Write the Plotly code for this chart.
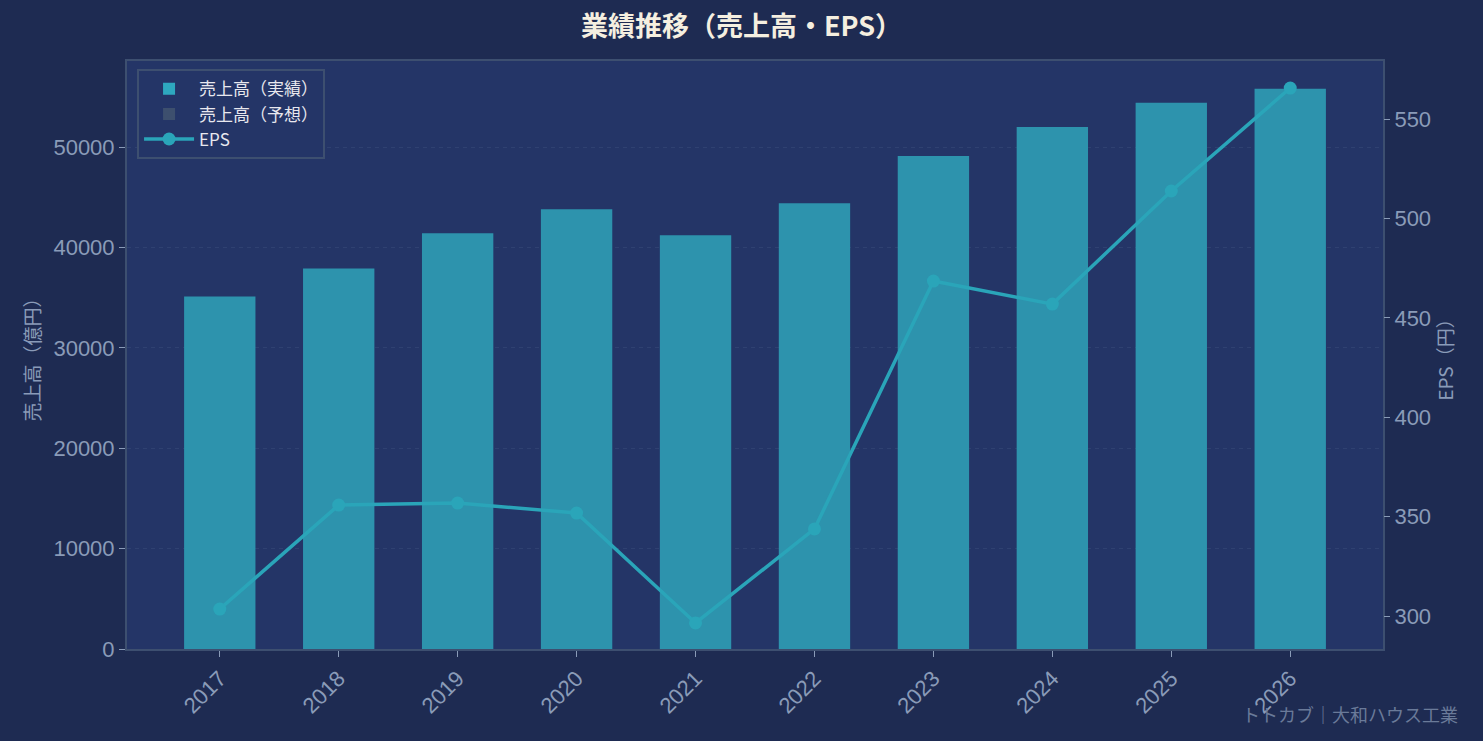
import plotly.graph_objects as go

years = ['2017', '2018', '2019', '2020', '2021', '2022', '2023', '2024', '2025', '2026']
sales = [35100, 37900, 41400, 43800, 41200, 44400, 49100, 52000, 54400, 55800]  # 億円
eps = [303.5, 355.8, 356.8, 351.8, 296.5, 343.8, 468.5, 456.9, 513.8, 565.6]  # 円

BG = '#1e2b52'
PLOT_BG = '#243567'
FRAME = '#3d4f70'
TICK = '#8a9bb8'
JP = 'Noto Sans CJK JP'
NUM = 'Liberation Sans, Noto Sans CJK JP'

fig = go.Figure()

# bars (actual) - legend handled by dummy trace below
fig.add_trace(go.Bar(
    x=years, y=sales, width=0.6,
    marker=dict(color='#2d93ad', line=dict(width=0)),
    showlegend=False, name='売上高（実績）'
))
# legend entries
fig.add_trace(go.Bar(
    x=[None], y=[None], name='売上高（実績）',
    marker=dict(color='#2ea8bf', line=dict(width=0))
))
fig.add_trace(go.Bar(
    x=[None], y=[None], name='売上高（予想）',
    marker=dict(color='#3d4f6e', line=dict(width=0))
))

fig.add_trace(go.Scatter(
    x=years, y=eps, yaxis='y2', mode='lines+markers', name='EPS',
    line=dict(color='#2aa5b9', width=3.5),
    marker=dict(color='#2aa5b9', size=13)
))

fig.update_layout(
    width=1483, height=741,
    paper_bgcolor=BG, plot_bgcolor=PLOT_BG,
    font=dict(family=JP, color=TICK),
    margin=dict(l=127, r=100, t=61, b=92),
    barmode='overlay',
    title=dict(text='<b>業績推移（売上高・EPS）</b>', x=0.5, xanchor='center',
               y=1 - 27 / 741, yanchor='middle',
               font=dict(size=27, color='#f5efe0', family=JP)),
    xaxis=dict(range=[-0.78, 9.78], tickangle=-45, tickfont=dict(size=22, color=TICK, family=NUM),
               showgrid=False, ticks='outside', tickcolor=TICK, ticklen=6,
               showline=True, linecolor=FRAME, linewidth=2, mirror=True, zeroline=False),
    yaxis=dict(range=[0, 58566], tickvals=[0, 10000, 20000, 30000, 40000, 50000],
               tickformat='d',
               tickfont=dict(size=22, color=TICK, family=NUM),
               title=dict(text='売上高（億円）', font=dict(size=19, color=TICK), standoff=8),
               showgrid=True, gridcolor='rgba(120,140,180,0.14)', griddash='4px,4px', gridwidth=1,
               ticks='outside', tickcolor=TICK, ticklen=6,
               showline=True, linecolor=FRAME, linewidth=2, mirror=True, zeroline=False),
    yaxis2=dict(range=[283.4, 579.2], overlaying='y', side='right',
                tickvals=[300, 350, 400, 450, 500, 550],
                tickfont=dict(size=22, color=TICK, family=NUM),
                title=dict(text='EPS（円）', font=dict(size=19, color=TICK), standoff=8),
                showgrid=False, ticks='outside', tickcolor=TICK, ticklen=6, zeroline=False),
    legend=dict(x=0.008, y=0.986, xanchor='left', yanchor='top',
                bgcolor=PLOT_BG, bordercolor=FRAME, borderwidth=2, itemwidth=50,
                font=dict(size=17, color='#e8e8ee'), tracegroupgap=2),
)

fig.add_annotation(text='トトカブ｜大和ハウス工業', xref='paper', yref='paper',
                   x=(1460 - 127) / (1483 - 127 - 100), y=(649 - 714) / (649 - 61),
                   xanchor='right', yanchor='middle', showarrow=False,
                   font=dict(size=18, color='#6a7a99', family=JP))

fig.write_html("out.html", config={'displayModeBar': False},
               post_script="document.body.style.margin='0px';")
